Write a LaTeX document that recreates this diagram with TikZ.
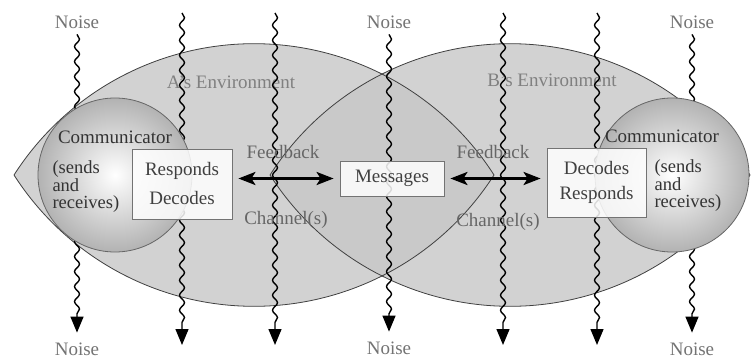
\documentclass[tikz,border=0pt]{standalone}
\usepackage{fontspec}
\setmainfont{Liberation Serif}
\usetikzlibrary{arrows.meta,decorations.pathmorphing}
\tikzset{
  lens/.style={
    insert path={({#1-240},184) arc[start angle=147.37,end angle=32.63,radius=285]
      arc[start angle=-32.63,end angle=-147.37,radius=285] -- cycle}
  },
  envfill/.style={fill=black!22,fill opacity=0.8},
  envline/.style={draw=black!75,line width=0.8pt},
  commball/.style={
    circle,draw=black!60,line width=0.8pt,inner sep=0pt,minimum size=154pt,
    inner color=white,outer color=black!30
  },
  block/.style={
    rectangle,draw=black!55,line width=0.8pt,fill=white,fill opacity=0.85,
    text opacity=1,text=black!75,align=center,inner sep=2pt
  },
  noiseline/.style={
    line width=1.4pt,decorate,
    decoration={snake,amplitude=2.5pt,segment length=15pt,post length=16pt},
    -{Triangle[length=16pt,width=13pt]}
  },
  noiselabel/.style={text=black!55,inner sep=2pt,outer sep=4pt},
  sidetext/.style={align=left,anchor=west,text=black!80,
    font=\fontsize{18.5}{17.5}\selectfont},
  fbarrow/.style={
    {Stealth[length=17pt,width=13pt,inset=4pt]}-{Stealth[length=17pt,width=13pt,inset=4pt]},
    line width=2.8pt,shorten <=6pt,shorten >=6pt
  },
  chanlabel/.style={text=black!60}
}
\begin{document}
\begin{tikzpicture}[x=1pt,y=1pt,every node/.style={font=\fontsize{19}{21}\selectfont}]
  \useasboundingbox (0,0) rectangle (751,359);

  % the two environments
  \path[envfill,lens=254];
  \path[envfill,lens=510];
  \path[envline,lens=254];
  \path[envline,lens=510];
  \node[text=black!50] (envA) at (231,277) {A's Environment};
  \node[text=black!50] (envB) at (552,279) {B's Environment};

  % noise
  \node[noiselabel] (noiseL) at (77,337) {Noise};
  \node[noiselabel] (noiseM) at (389,337) {Noise};
  \node[noiselabel] (noiseR) at (692,337) {Noise};
  \node[noiselabel,outer sep=8pt] (noiseLb) at (77,10) {Noise};
  \node[noiselabel,outer sep=8pt] (noiseMb) at (389,11) {Noise};
  \node[noiselabel,outer sep=8pt] (noiseRb) at (692,10) {Noise};
  \draw[noiseline] (noiseL) -- (noiseLb);
  \draw[noiseline] (noiseM) -- (noiseMb);
  \draw[noiseline] (noiseR) -- (noiseRb);
  \foreach \x/\n in {182/rA,275/fA,503/fB,597/rB} {
    \coordinate (\n-top) at (\x,346);
    \coordinate (\n-end) at (\x,14);
    \draw[noiseline] (\n-top) -- (\n-end);
  }

  % communicators
  \node[commball] (commA) at (115,184) {};
  \node[commball] (commB) at (672,184) {};
  \node[text=black!80] (commAlabel) at (115,222) {Communicator};
  \node[text=black!80] (commBlabel) at (662,223) {Communicator};
  \node[sidetext] (sendsA) at (49,172) {(sends\\and\\receives)};
  \node[sidetext] (sendsB) at (651,173) {(sends\\and\\receives)};

  \node[block,minimum width=100pt,minimum height=70pt] (codeA) at (182,175)
    {Responds\\[8pt]Decodes};
  \node[block,minimum width=99pt,minimum height=69pt] (codeB) at (596.5,176.5)
    {Decodes\\[4pt]Responds};
  \node[block,minimum width=104pt,minimum height=35pt] (msg) at (392,180.5)
    {Messages};

  \draw[fbarrow] (codeA.east |- msg.west) -- (msg.west);
  \draw[fbarrow] (msg.east) -- (codeB.west |- msg.east);
  \node[chanlabel] (fbA) at (283,207) {Feedback};
  \node[chanlabel] (fbB) at (493,207) {Feedback};
  \node[chanlabel] (chA) at (286,139) {Channel(s)};
  \node[chanlabel] (chB) at (498,137) {Channel(s)};
\end{tikzpicture}
\end{document}
